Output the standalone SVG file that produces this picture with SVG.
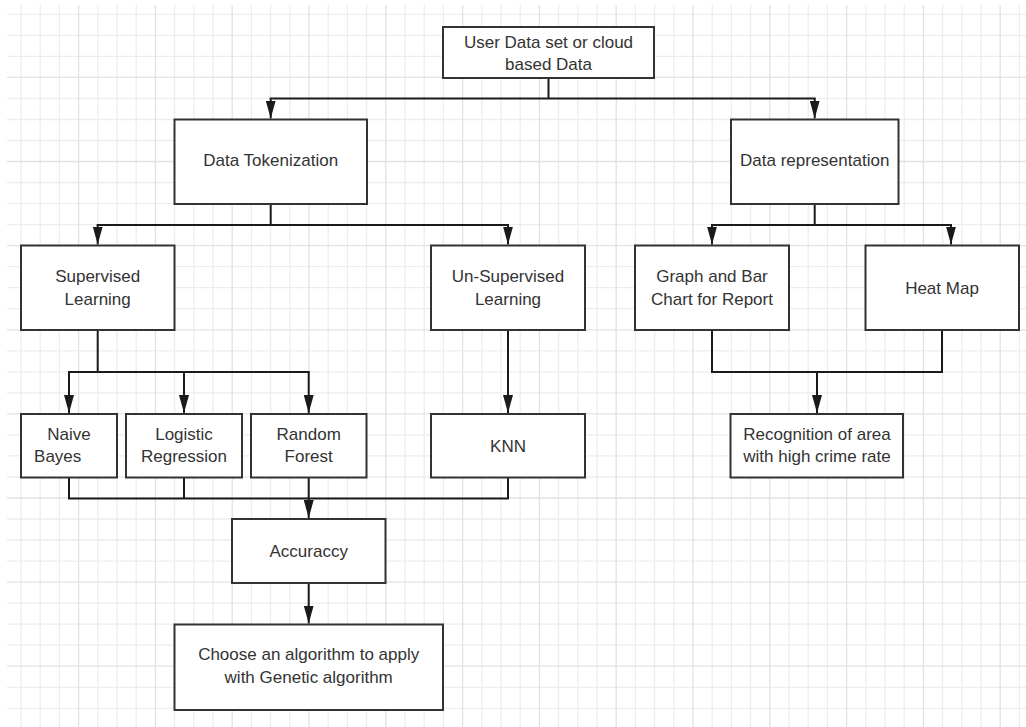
<svg xmlns="http://www.w3.org/2000/svg" width="1026" height="727" viewBox="0 0 1026 727">
<style>
.box{fill:#fff;stroke:#333;stroke-width:2}
.t{font-family:"Liberation Sans",Arial,sans-serif;font-size:17px;fill:#333;text-anchor:middle}
.ln{fill:none;stroke:#1a1a1a;stroke-width:2}
.ar{fill:none;stroke:#1a1a1a;stroke-width:2;marker-end:url(#ah)}
.gmin{fill:none;stroke:#ededed;stroke-width:1.3}
.gmaj{fill:none;stroke:#e2e2e2;stroke-width:1.3}
</style>
<defs>
<marker id="ah" markerUnits="userSpaceOnUse" markerWidth="18" markerHeight="10" refX="18" refY="5" orient="auto" viewBox="0 0 18 10">
<path d="M0,0 L18,5 L0,10 Z" fill="#1a1a1a"/>
</marker>
</defs>
<rect width="1026" height="727" fill="#fff"/>
<g id="grid">
<path class="gmin" d="M21 5V727M40.2 5V727M59.4 5V727M97.8 5V727M117 5V727M136.2 5V727M174.6 5V727M193.8 5V727M213 5V727M251.4 5V727M270.6 5V727M289.8 5V727M328.2 5V727M347.4 5V727M366.6 5V727M405 5V727M424.2 5V727M443.4 5V727M481.8 5V727M501 5V727M520.2 5V727M558.6 5V727M577.8 5V727M597 5V727M635.4 5V727M654.6 5V727M673.8 5V727M712.2 5V727M731.4 5V727M750.6 5V727M789 5V727M808.2 5V727M827.4 5V727M865.8 5V727M885 5V727M904.2 5V727M942.6 5V727M961.8 5V727M981 5V727M1019.4 5V727M7 14.3H1026M7 35.3H1026M7 56.4H1026M7 98.4H1026M7 119.5H1026M7 140.5H1026M7 182.5H1026M7 203.6H1026M7 224.6H1026M7 266.7H1026M7 287.7H1026M7 308.7H1026M7 350.8H1026M7 371.8H1026M7 392.8H1026M7 434.9H1026M7 455.9H1026M7 477H1026M7 519H1026M7 540H1026M7 561.1H1026M7 603.1H1026M7 624.2H1026M7 645.2H1026M7 687.3H1026M7 708.3H1026"/>
<path class="gmaj" d="M78.6 5V727M155.4 5V727M232.2 5V727M309 5V727M385.8 5V727M462.6 5V727M539.4 5V727M616.2 5V727M693 5V727M769.8 5V727M846.6 5V727M923.4 5V727M1000.2 5V727M7 77.4H1026M7 161.5H1026M7 245.6H1026M7 329.8H1026M7 413.9H1026M7 498H1026M7 582.1H1026M7 666.2H1026"/>
</g>
<g id="connectors">
<path class="ln" d="M548.5,78 V98.5 M269.7,98.5 H815.7"/>
<path class="ar" d="M270.7,98.5 V118.5"/>
<path class="ar" d="M814.7,98.5 V118.5"/>
<path class="ln" d="M270.7,204 V225 M96.7,225 H509"/>
<path class="ar" d="M97.7,225 V244.5"/>
<path class="ar" d="M508,225 V244.5"/>
<path class="ln" d="M814.7,204 V225 M711,225 H952"/>
<path class="ar" d="M712,225 V244.5"/>
<path class="ar" d="M951,225 V244.5"/>
<path class="ln" d="M97.7,330 V372 M68,372 H309.7"/>
<path class="ar" d="M69,372 V413"/>
<path class="ar" d="M184,372 V413"/>
<path class="ar" d="M308.7,372 V413"/>
<path class="ar" d="M508,330 V413"/>
<path class="ln" d="M712,330 V372 H942 V330"/>
<path class="ar" d="M817,372 V413"/>
<path class="ln" d="M69,477.5 V498.5 H508 V477.5 M184,477.5 V498.5 M308.7,477.5 V498.5"/>
<path class="ar" d="M308.7,498.5 V518"/>
<path class="ar" d="M308.7,583 V623.5"/>
</g>
<g id="n_user"><rect class="box" x="443" y="27" width="211" height="51"/><text class="t" x="548.5" y="48">User Data set or cloud</text><text class="t" x="548.5" y="70">based Data</text></g>
<g id="n_tok"><rect class="box" x="174.5" y="119.5" width="192.5" height="84.5"/><text class="t" x="270.7" y="166">Data Tokenization</text></g>
<g id="n_rep"><rect class="box" x="731" y="119.5" width="167.5" height="84.5"/><text class="t" x="814.7" y="166">Data representation</text></g>
<g id="n_sup"><rect class="box" x="21" y="245.5" width="153.5" height="84.5"/><text class="t" x="97.7" y="282">Supervised</text><text class="t" x="97.7" y="305">Learning</text></g>
<g id="n_unsup"><rect class="box" x="431" y="245.5" width="154" height="84.5"/><text class="t" x="508" y="282">Un-Supervised</text><text class="t" x="508" y="305">Learning</text></g>
<g id="n_graph"><rect class="box" x="635" y="245.5" width="154" height="84.5"/><text class="t" x="712" y="282">Graph and Bar</text><text class="t" x="712" y="305">Chart for Report</text></g>
<g id="n_heat"><rect class="box" x="865.5" y="245.5" width="153.5" height="84.5"/><text class="t" x="942" y="294">Heat Map</text></g>
<g id="n_naive"><rect class="box" x="21" y="414" width="96" height="63.5"/><text class="t" x="69" y="440">Naive</text><text class="t" x="57.7" y="462">Bayes</text></g>
<g id="n_log"><rect class="box" x="126" y="414" width="116" height="63.5"/><text class="t" x="184" y="440">Logistic</text><text class="t" x="184" y="462">Regression</text></g>
<g id="n_rf"><rect class="box" x="251" y="414" width="115.5" height="63.5"/><text class="t" x="308.7" y="440">Random</text><text class="t" x="308.7" y="462">Forest</text></g>
<g id="n_knn"><rect class="box" x="431" y="414" width="154" height="63.5"/><text class="t" x="508" y="452">KNN</text></g>
<g id="n_rec"><rect class="box" x="730.5" y="414" width="172.5" height="63.5"/><text class="t" x="817" y="440">Recognition of area</text><text class="t" x="817" y="462">with high crime rate</text></g>
<g id="n_acc"><rect class="box" x="232" y="519" width="153.5" height="64"/><text class="t" x="308.7" y="557">Accuraccy</text></g>
<g id="n_choose"><rect class="box" x="174.5" y="624.5" width="268.5" height="85.5"/><text class="t" x="308.7" y="660">Choose an algorithm to apply</text><text class="t" x="308.7" y="683">with Genetic algorithm</text></g>
</svg>
